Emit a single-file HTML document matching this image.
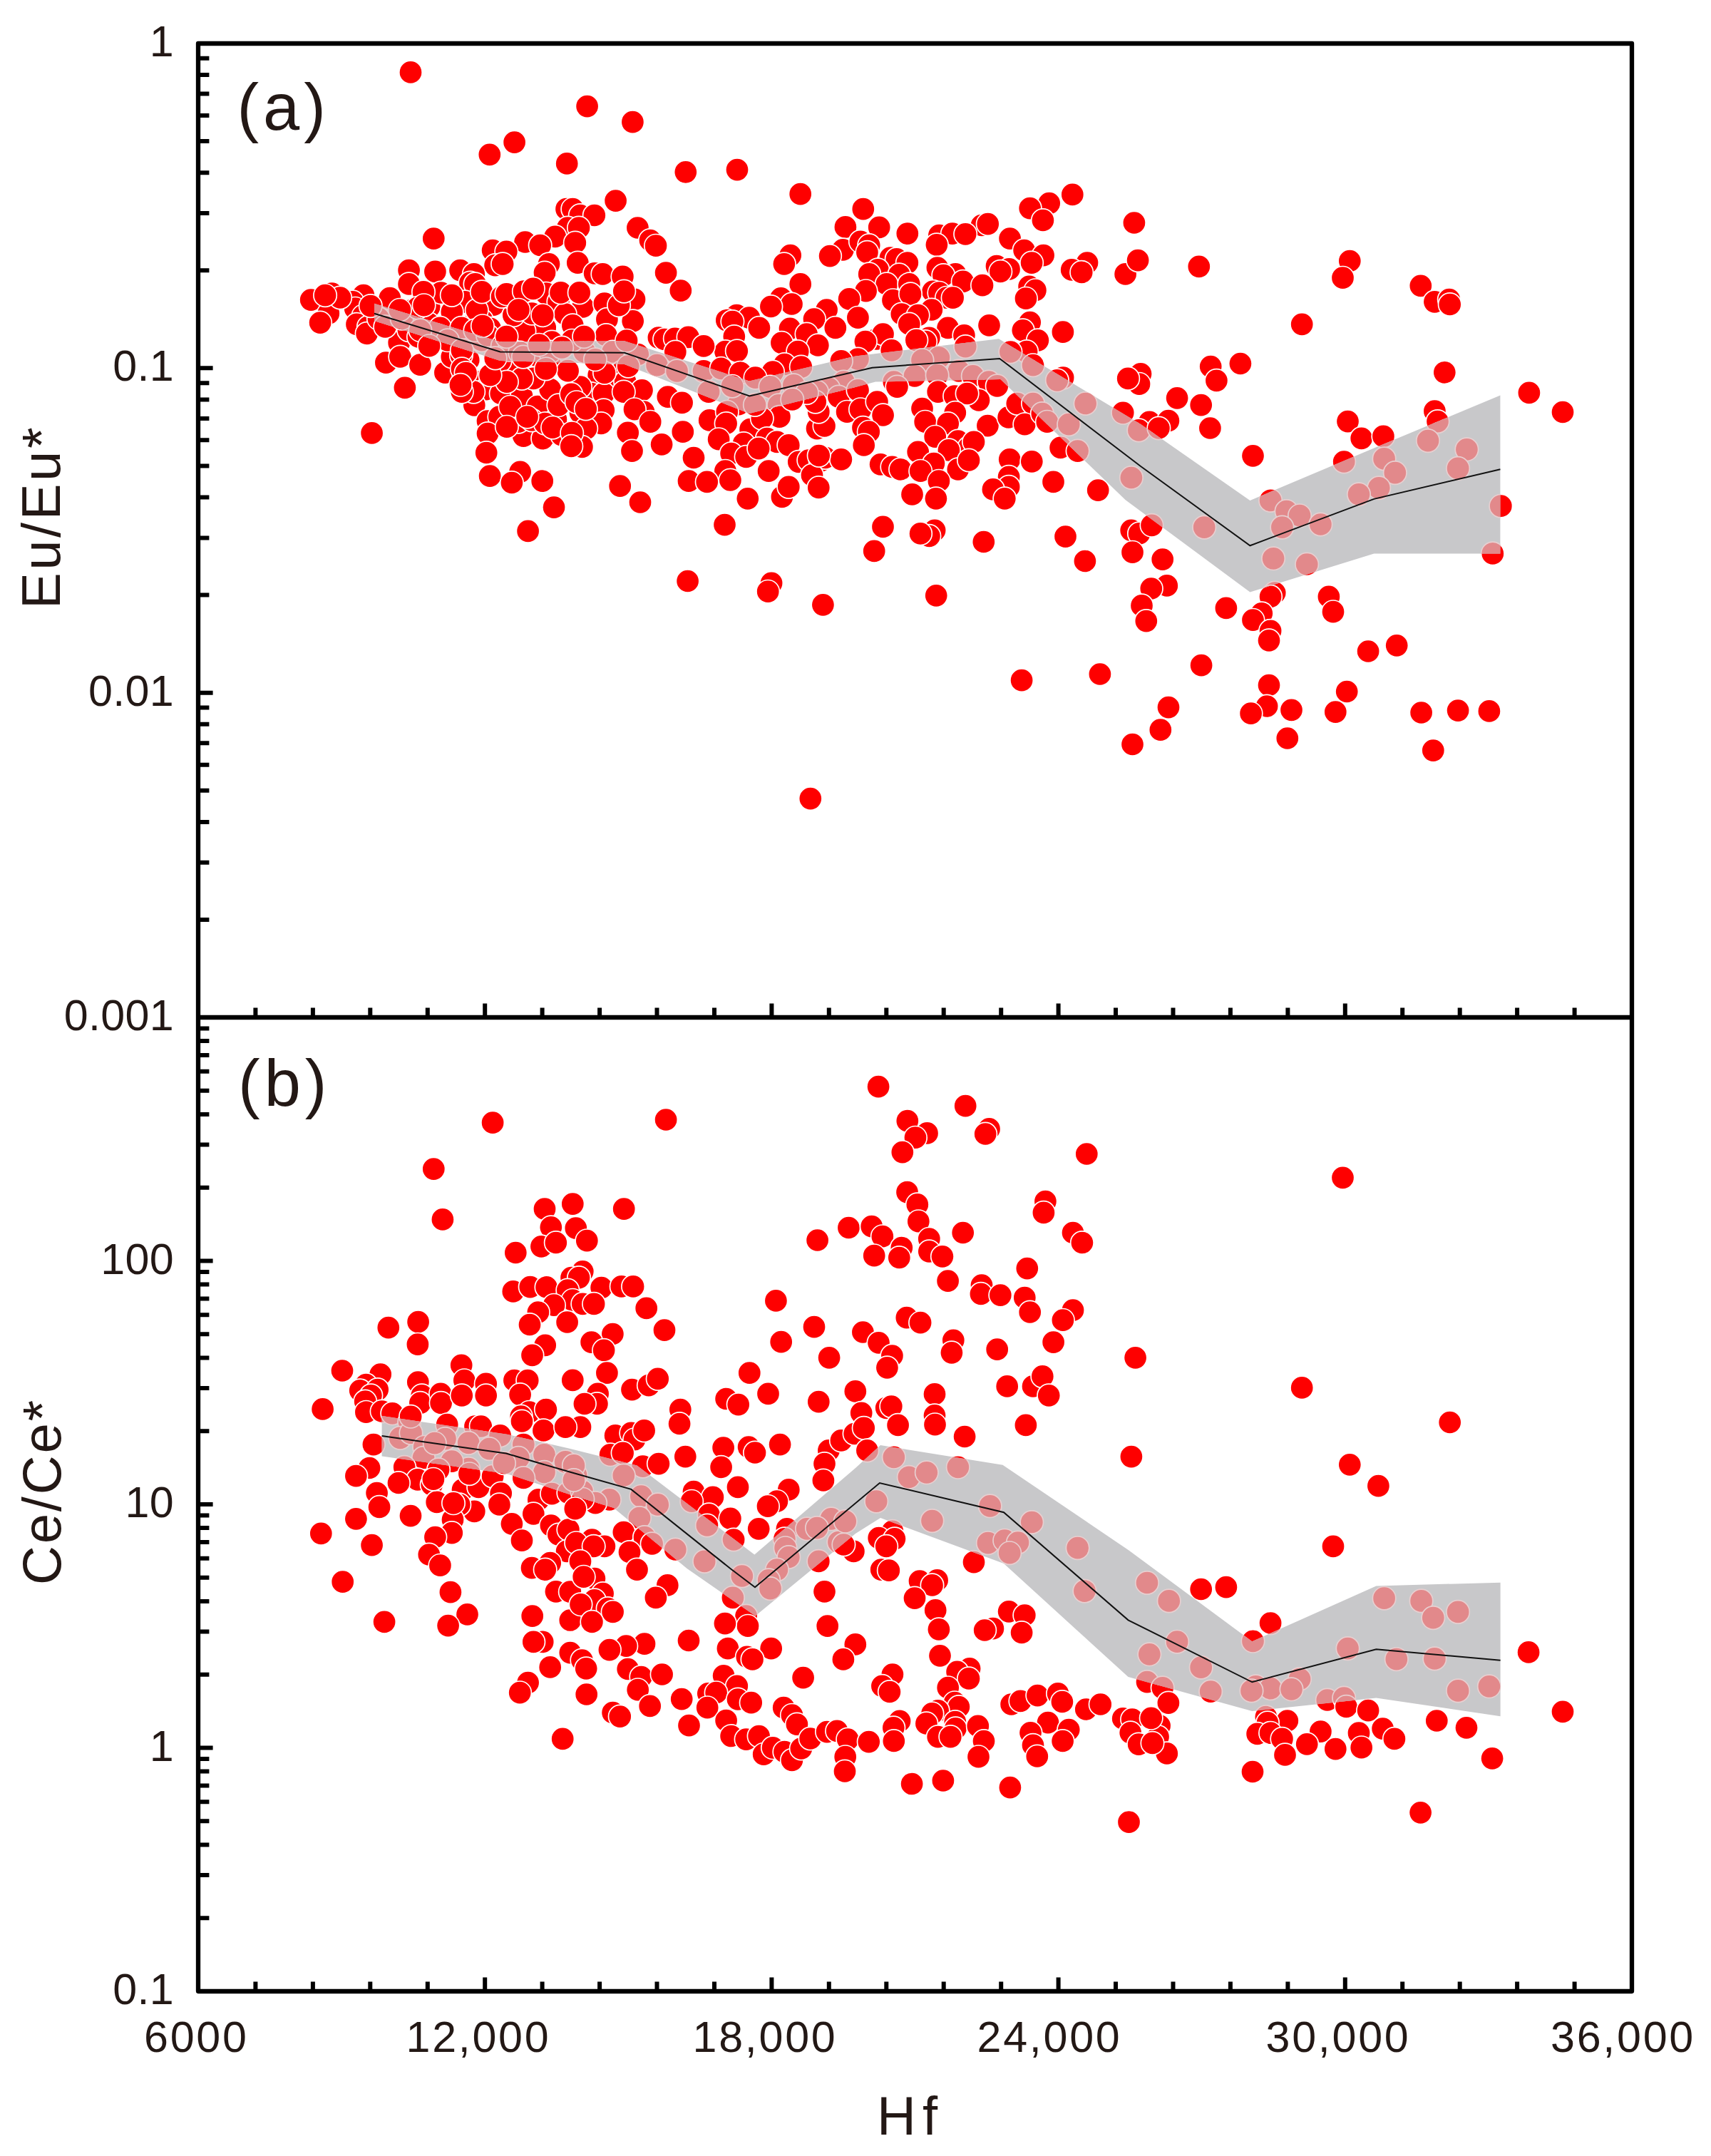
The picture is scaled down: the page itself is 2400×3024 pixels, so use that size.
<!DOCTYPE html>
<html><head><meta charset="utf-8"><title>Eu/Eu* and Ce/Ce* vs Hf</title>
<style>html,body{margin:0;padding:0;background:#fff}svg{display:block}</style></head>
<body>
<svg width="2400" height="3024" viewBox="0 0 2400 3024">
<rect width="2400" height="3024" fill="#fff"/>
<defs><g id="dts">
<circle cx="576.0" cy="101.4" r="16.2"/><circle cx="823.6" cy="149.1" r="16.2"/><circle cx="887.4" cy="171.2" r="16.2"/><circle cx="721.6" cy="199.6" r="16.2"/><circle cx="686.8" cy="216.8" r="16.2"/><circle cx="795.2" cy="229.4" r="16.2"/><circle cx="961.8" cy="241.3" r="16.2"/><circle cx="863.6" cy="281.6" r="16.2"/><circle cx="608.3" cy="334.6" r="16.2"/><circle cx="794.5" cy="293.2" r="16.2"/><circle cx="803.3" cy="293.2" r="16.2"/><circle cx="813.8" cy="302.0" r="16.2"/><circle cx="833.8" cy="302.0" r="16.2"/><circle cx="796.3" cy="319.5" r="16.2"/><circle cx="812.0" cy="319.5" r="16.2"/><circle cx="778.7" cy="331.8" r="16.2"/><circle cx="806.8" cy="340.5" r="16.2"/><circle cx="736.6" cy="339.5" r="16.2"/><circle cx="757.7" cy="344.0" r="16.2"/><circle cx="691.1" cy="351.1" r="16.2"/><circle cx="710.3" cy="352.8" r="16.2"/><circle cx="894.4" cy="319.5" r="16.2"/><circle cx="912.0" cy="337.0" r="16.2"/><circle cx="920.0" cy="344.7" r="16.2"/><circle cx="694.6" cy="372.1" r="16.2"/><circle cx="705.1" cy="370.3" r="16.2"/><circle cx="770.0" cy="370.3" r="16.2"/><circle cx="764.0" cy="382.6" r="16.2"/><circle cx="810.3" cy="368.6" r="16.2"/><circle cx="834.1" cy="383.3" r="16.2"/><circle cx="845.4" cy="384.4" r="16.2"/><circle cx="873.4" cy="387.9" r="16.2"/><circle cx="934.1" cy="382.6" r="16.2"/><circle cx="573.6" cy="379.1" r="16.2"/><circle cx="610.4" cy="380.9" r="16.2"/><circle cx="645.5" cy="379.1" r="16.2"/><circle cx="664.8" cy="384.4" r="16.2"/><circle cx="573.6" cy="398.4" r="16.2"/><circle cx="659.5" cy="396.6" r="16.2"/><circle cx="666.5" cy="398.4" r="16.2"/><circle cx="1034.0" cy="238.1" r="16.2"/><circle cx="1122.7" cy="272.2" r="16.2"/><circle cx="1210.8" cy="293.2" r="16.2"/><circle cx="1504.3" cy="272.9" r="16.2"/><circle cx="1471.7" cy="285.1" r="16.2"/><circle cx="1444.7" cy="292.1" r="16.2"/><circle cx="1462.9" cy="309.0" r="16.2"/><circle cx="1590.9" cy="312.5" r="16.2"/><circle cx="1377.0" cy="316.0" r="16.2"/><circle cx="1385.7" cy="314.2" r="16.2"/><circle cx="1185.9" cy="318.4" r="16.2"/><circle cx="1233.2" cy="318.8" r="16.2"/><circle cx="1272.8" cy="327.6" r="16.2"/><circle cx="1317.4" cy="330.0" r="16.2"/><circle cx="1335.9" cy="327.6" r="16.2"/><circle cx="1354.2" cy="328.3" r="16.2"/><circle cx="1416.6" cy="334.6" r="16.2"/><circle cx="1313.9" cy="343.3" r="16.2"/><circle cx="1182.3" cy="350.4" r="16.2"/><circle cx="1206.9" cy="338.8" r="16.2"/><circle cx="1219.2" cy="344.0" r="16.2"/><circle cx="1216.4" cy="353.9" r="16.2"/><circle cx="1164.1" cy="359.1" r="16.2"/><circle cx="1108.7" cy="358.1" r="16.2"/><circle cx="1099.9" cy="370.3" r="16.2"/><circle cx="1436.6" cy="351.1" r="16.2"/><circle cx="1463.6" cy="358.1" r="16.2"/><circle cx="1447.1" cy="368.6" r="16.2"/><circle cx="1249.0" cy="361.6" r="16.2"/><circle cx="1257.7" cy="363.3" r="16.2"/><circle cx="1272.8" cy="368.6" r="16.2"/><circle cx="1398.0" cy="373.2" r="16.2"/><circle cx="1415.5" cy="377.4" r="16.2"/><circle cx="1403.3" cy="380.9" r="16.2"/><circle cx="1525.0" cy="368.6" r="16.2"/><circle cx="1503.2" cy="378.4" r="16.2"/><circle cx="1517.2" cy="381.9" r="16.2"/><circle cx="1578.6" cy="384.4" r="16.2"/><circle cx="1596.1" cy="365.1" r="16.2"/><circle cx="1314.9" cy="375.6" r="16.2"/><circle cx="1340.2" cy="384.4" r="16.2"/><circle cx="1323.3" cy="386.1" r="16.2"/><circle cx="1231.4" cy="378.4" r="16.2"/><circle cx="1261.3" cy="385.4" r="16.2"/><circle cx="1219.2" cy="384.4" r="16.2"/><circle cx="1350.7" cy="394.9" r="16.2"/><circle cx="1378.0" cy="400.2" r="16.2"/><circle cx="1243.7" cy="398.4" r="16.2"/><circle cx="1275.3" cy="398.4" r="16.2"/><circle cx="1122.7" cy="398.4" r="16.2"/><circle cx="1214.6" cy="408.2" r="16.2"/><circle cx="1308.6" cy="408.9" r="16.2"/><circle cx="1317.4" cy="410.7" r="16.2"/><circle cx="1443.6" cy="401.9" r="16.2"/><circle cx="1452.4" cy="407.2" r="16.2"/><circle cx="1439.0" cy="418.7" r="16.2"/><circle cx="1191.1" cy="419.4" r="16.2"/><circle cx="1095.4" cy="418.4" r="16.2"/><circle cx="1110.5" cy="426.5" r="16.2"/><circle cx="1081.4" cy="430.0" r="16.2"/><circle cx="1252.5" cy="421.2" r="16.2"/><circle cx="1277.0" cy="412.4" r="16.2"/><circle cx="1327.9" cy="417.7" r="16.2"/><circle cx="1336.6" cy="417.7" r="16.2"/><circle cx="1159.6" cy="434.5" r="16.2"/><circle cx="1306.8" cy="434.5" r="16.2"/><circle cx="1264.8" cy="440.5" r="16.2"/><circle cx="1287.6" cy="442.2" r="16.2"/><circle cx="1033.3" cy="442.2" r="16.2"/><circle cx="1050.8" cy="445.7" r="16.2"/><circle cx="1019.3" cy="449.2" r="16.2"/><circle cx="1027.4" cy="451.0" r="16.2"/><circle cx="1203.4" cy="445.7" r="16.2"/><circle cx="1142.0" cy="447.5" r="16.2"/><circle cx="1387.5" cy="456.3" r="16.2"/><circle cx="1444.7" cy="452.1" r="16.2"/><circle cx="1434.8" cy="463.3" r="16.2"/><circle cx="1275.3" cy="454.5" r="16.2"/><circle cx="1490.9" cy="465.7" r="16.2"/><circle cx="1064.9" cy="459.8" r="16.2"/><circle cx="1108.0" cy="460.8" r="16.2"/><circle cx="1131.5" cy="468.5" r="16.2"/><circle cx="1171.8" cy="459.8" r="16.2"/><circle cx="1029.8" cy="472.0" r="16.2"/><circle cx="1329.6" cy="459.8" r="16.2"/><circle cx="1352.4" cy="470.3" r="16.2"/><circle cx="1303.3" cy="473.8" r="16.2"/><circle cx="1298.1" cy="479.1" r="16.2"/><circle cx="1229.7" cy="475.5" r="16.2"/><circle cx="1238.5" cy="468.5" r="16.2"/><circle cx="1455.9" cy="477.3" r="16.2"/><circle cx="1096.4" cy="480.8" r="16.2"/><circle cx="1147.3" cy="484.3" r="16.2"/><circle cx="1119.2" cy="493.1" r="16.2"/><circle cx="1017.5" cy="493.1" r="16.2"/><circle cx="1213.9" cy="479.1" r="16.2"/><circle cx="1250.7" cy="491.3" r="16.2"/><circle cx="1440.1" cy="493.1" r="16.2"/><circle cx="1203.4" cy="503.6" r="16.2"/><circle cx="1354.2" cy="486.1" r="16.2"/><circle cx="1681.8" cy="373.8" r="16.2"/><circle cx="1893.3" cy="366.0" r="16.2"/><circle cx="1883.5" cy="389.7" r="16.2"/><circle cx="1992.8" cy="400.8" r="16.2"/><circle cx="2012.4" cy="423.3" r="16.2"/><circle cx="2032.8" cy="420.0" r="16.2"/><circle cx="2033.7" cy="427.0" r="16.2"/><circle cx="1826.2" cy="454.8" r="16.2"/><circle cx="1739.9" cy="510.0" r="16.2"/><circle cx="1698.2" cy="514.1" r="16.2"/><circle cx="1706.4" cy="533.8" r="16.2"/><circle cx="2026.3" cy="522.3" r="16.2"/><circle cx="1600.0" cy="524.3" r="16.2"/><circle cx="1598.0" cy="538.7" r="16.2"/><circle cx="2144.9" cy="550.9" r="16.2"/><circle cx="1651.1" cy="558.3" r="16.2"/><circle cx="1684.7" cy="568.1" r="16.2"/><circle cx="1612.3" cy="591.9" r="16.2"/><circle cx="465.5" cy="411.7" r="16.2"/><circle cx="436.2" cy="420.6" r="16.2"/><circle cx="460.8" cy="439.7" r="16.2"/><circle cx="449.1" cy="452.6" r="16.2"/><circle cx="509.9" cy="414.0" r="16.2"/><circle cx="494.7" cy="423.4" r="16.2"/><circle cx="498.2" cy="432.7" r="16.2"/><circle cx="509.4" cy="443.2" r="16.2"/><circle cx="500.5" cy="454.9" r="16.2"/><circle cx="516.9" cy="458.4" r="16.2"/><circle cx="514.6" cy="467.8" r="16.2"/><circle cx="546.8" cy="418.2" r="16.2"/><circle cx="602.2" cy="430.4" r="16.2"/><circle cx="652.0" cy="423.4" r="16.2"/><circle cx="692.2" cy="427.6" r="16.2"/><circle cx="618.6" cy="410.5" r="16.2"/><circle cx="728.5" cy="421.0" r="16.2"/><circle cx="765.9" cy="411.7" r="16.2"/><circle cx="764.7" cy="459.6" r="16.2"/><circle cx="735.5" cy="464.3" r="16.2"/><circle cx="705.1" cy="477.1" r="16.2"/><circle cx="559.7" cy="480.7" r="16.2"/><circle cx="541.4" cy="508.7" r="16.2"/><circle cx="561.3" cy="500.5" r="16.2"/><circle cx="589.4" cy="511.7" r="16.2"/><circle cx="567.9" cy="543.8" r="16.2"/><circle cx="521.6" cy="607.4" r="16.2"/><circle cx="624.4" cy="522.7" r="16.2"/><circle cx="650.1" cy="530.9" r="16.2"/><circle cx="656.0" cy="537.9" r="16.2"/><circle cx="671.2" cy="535.6" r="16.2"/><circle cx="681.7" cy="546.1" r="16.2"/><circle cx="702.7" cy="552.0" r="16.2"/><circle cx="665.3" cy="568.3" r="16.2"/><circle cx="684.0" cy="590.5" r="16.2"/><circle cx="700.4" cy="584.7" r="16.2"/><circle cx="684.0" cy="608.1" r="16.2"/><circle cx="682.2" cy="635.0" r="16.2"/><circle cx="687.1" cy="667.7" r="16.2"/><circle cx="729.6" cy="661.8" r="16.2"/><circle cx="717.9" cy="677.0" r="16.2"/><circle cx="760.7" cy="674.7" r="16.2"/><circle cx="734.3" cy="611.6" r="16.2"/><circle cx="761.2" cy="615.1" r="16.2"/><circle cx="732.0" cy="555.5" r="16.2"/><circle cx="754.2" cy="570.2" r="16.2"/><circle cx="771.7" cy="546.1" r="16.2"/><circle cx="779.9" cy="588.2" r="16.2"/><circle cx="748.3" cy="530.9" r="16.2"/><circle cx="719.1" cy="518.1" r="16.2"/><circle cx="701.6" cy="506.4" r="16.2"/><circle cx="727.3" cy="591.7" r="16.2"/><circle cx="477.1" cy="417.5" r="16.2"/><circle cx="530.9" cy="446.8" r="16.2"/><circle cx="540.3" cy="458.4" r="16.2"/><circle cx="573.0" cy="463.1" r="16.2"/><circle cx="587.0" cy="472.5" r="16.2"/><circle cx="605.7" cy="477.1" r="16.2"/><circle cx="622.1" cy="467.8" r="16.2"/><circle cx="636.1" cy="458.4" r="16.2"/><circle cx="657.2" cy="458.4" r="16.2"/><circle cx="675.9" cy="449.1" r="16.2"/><circle cx="687.6" cy="460.8" r="16.2"/><circle cx="668.8" cy="435.1" r="16.2"/><circle cx="633.8" cy="437.4" r="16.2"/><circle cx="577.7" cy="435.1" r="16.2"/><circle cx="563.6" cy="446.8" r="16.2"/><circle cx="601.1" cy="453.8" r="16.2"/><circle cx="647.8" cy="481.8" r="16.2"/><circle cx="633.8" cy="500.5" r="16.2"/><circle cx="657.2" cy="505.2" r="16.2"/><circle cx="675.9" cy="477.1" r="16.2"/><circle cx="720.3" cy="442.1" r="16.2"/><circle cx="746.0" cy="439.7" r="16.2"/><circle cx="774.1" cy="479.5" r="16.2"/><circle cx="750.7" cy="498.2" r="16.2"/><circle cx="771.7" cy="512.2" r="16.2"/><circle cx="732.0" cy="530.9" r="16.2"/><circle cx="710.9" cy="535.6" r="16.2"/><circle cx="687.6" cy="526.2" r="16.2"/><circle cx="664.2" cy="549.6" r="16.2"/><circle cx="647.8" cy="549.6" r="16.2"/><circle cx="715.6" cy="570.7" r="16.2"/><circle cx="746.0" cy="589.4" r="16.2"/><circle cx="764.7" cy="594.0" r="16.2"/><circle cx="783.4" cy="568.3" r="16.2"/><circle cx="710.9" cy="598.7" r="16.2"/><circle cx="788.1" cy="610.4" r="16.2"/><circle cx="771.7" cy="493.5" r="16.2"/><circle cx="675.9" cy="409.4" r="16.2"/><circle cx="783.4" cy="423.4" r="16.2"/><circle cx="594.0" cy="409.4" r="16.2"/><circle cx="633.8" cy="414.0" r="16.2"/><circle cx="817.5" cy="430.4" r="16.2"/><circle cx="847.9" cy="425.7" r="16.2"/><circle cx="890.0" cy="419.9" r="16.2"/><circle cx="851.4" cy="447.9" r="16.2"/><circle cx="887.7" cy="450.3" r="16.2"/><circle cx="850.3" cy="470.1" r="16.2"/><circle cx="923.9" cy="473.6" r="16.2"/><circle cx="932.1" cy="476.0" r="16.2"/><circle cx="946.8" cy="474.8" r="16.2"/><circle cx="965.5" cy="472.9" r="16.2"/><circle cx="987.0" cy="485.3" r="16.2"/><circle cx="947.3" cy="493.5" r="16.2"/><circle cx="1033.8" cy="492.3" r="16.2"/><circle cx="1100.4" cy="511.0" r="16.2"/><circle cx="1123.8" cy="514.6" r="16.2"/><circle cx="1084.0" cy="521.6" r="16.2"/><circle cx="1179.9" cy="506.4" r="16.2"/><circle cx="859.6" cy="493.5" r="16.2"/><circle cx="894.7" cy="497.0" r="16.2"/><circle cx="819.9" cy="493.5" r="16.2"/><circle cx="921.6" cy="512.2" r="16.2"/><circle cx="949.6" cy="520.4" r="16.2"/><circle cx="987.0" cy="520.4" r="16.2"/><circle cx="1011.6" cy="516.9" r="16.2"/><circle cx="1038.5" cy="522.7" r="16.2"/><circle cx="1059.5" cy="529.7" r="16.2"/><circle cx="1113.3" cy="540.3" r="16.2"/><circle cx="1080.5" cy="542.6" r="16.2"/><circle cx="1183.4" cy="535.6" r="16.2"/><circle cx="1162.4" cy="544.9" r="16.2"/><circle cx="994.0" cy="549.6" r="16.2"/><circle cx="1036.1" cy="567.2" r="16.2"/><circle cx="1092.2" cy="568.3" r="16.2"/><circle cx="1146.0" cy="549.6" r="16.2"/><circle cx="1176.4" cy="556.6" r="16.2"/><circle cx="839.7" cy="526.2" r="16.2"/><circle cx="853.8" cy="527.4" r="16.2"/><circle cx="872.5" cy="521.6" r="16.2"/><circle cx="877.1" cy="535.6" r="16.2"/><circle cx="900.5" cy="547.3" r="16.2"/><circle cx="936.8" cy="556.6" r="16.2"/><circle cx="829.2" cy="552.0" r="16.2"/><circle cx="814.0" cy="542.6" r="16.2"/><circle cx="846.8" cy="552.0" r="16.2"/><circle cx="874.8" cy="549.6" r="16.2"/><circle cx="956.6" cy="564.8" r="16.2"/><circle cx="902.9" cy="577.7" r="16.2"/><circle cx="890.0" cy="574.2" r="16.2"/><circle cx="846.8" cy="575.3" r="16.2"/><circle cx="814.0" cy="578.8" r="16.2"/><circle cx="843.2" cy="594.0" r="16.2"/><circle cx="912.2" cy="591.7" r="16.2"/><circle cx="822.2" cy="601.1" r="16.2"/><circle cx="880.7" cy="606.9" r="16.2"/><circle cx="957.8" cy="605.7" r="16.2"/><circle cx="816.4" cy="626.8" r="16.2"/><circle cx="886.5" cy="632.6" r="16.2"/><circle cx="928.1" cy="623.3" r="16.2"/><circle cx="973.0" cy="642.0" r="16.2"/><circle cx="869.7" cy="681.7" r="16.2"/><circle cx="995.2" cy="589.4" r="16.2"/><circle cx="1019.8" cy="577.7" r="16.2"/><circle cx="1018.6" cy="594.0" r="16.2"/><circle cx="1008.1" cy="616.2" r="16.2"/><circle cx="1052.5" cy="602.2" r="16.2"/><circle cx="1093.4" cy="584.7" r="16.2"/><circle cx="1068.8" cy="587.0" r="16.2"/><circle cx="1043.1" cy="622.1" r="16.2"/><circle cx="1075.9" cy="615.1" r="16.2"/><circle cx="1089.9" cy="619.8" r="16.2"/><circle cx="1025.6" cy="636.1" r="16.2"/><circle cx="1106.3" cy="624.4" r="16.2"/><circle cx="1046.6" cy="640.8" r="16.2"/><circle cx="1064.2" cy="629.1" r="16.2"/><circle cx="1017.4" cy="660.7" r="16.2"/><circle cx="1078.2" cy="660.7" r="16.2"/><circle cx="1120.3" cy="647.8" r="16.2"/><circle cx="1134.3" cy="645.5" r="16.2"/><circle cx="1150.7" cy="646.6" r="16.2"/><circle cx="1157.7" cy="642.0" r="16.2"/><circle cx="1179.9" cy="644.3" r="16.2"/><circle cx="966.0" cy="674.7" r="16.2"/><circle cx="991.7" cy="675.9" r="16.2"/><circle cx="1024.4" cy="673.5" r="16.2"/><circle cx="1096.9" cy="696.9" r="16.2"/><circle cx="1106.3" cy="682.9" r="16.2"/><circle cx="1139.0" cy="666.5" r="16.2"/><circle cx="1148.3" cy="684.0" r="16.2"/><circle cx="1146.0" cy="601.1" r="16.2"/><circle cx="1156.5" cy="597.5" r="16.2"/><circle cx="1148.3" cy="577.7" r="16.2"/><circle cx="1188.1" cy="577.7" r="16.2"/><circle cx="1143.7" cy="563.6" r="16.2"/><circle cx="1417.4" cy="493.5" r="16.2"/><circle cx="1285.3" cy="477.1" r="16.2"/><circle cx="1316.9" cy="501.7" r="16.2"/><circle cx="1293.5" cy="505.2" r="16.2"/><circle cx="1344.9" cy="520.4" r="16.2"/><circle cx="1364.8" cy="527.4" r="16.2"/><circle cx="1253.8" cy="535.6" r="16.2"/><circle cx="1283.0" cy="527.4" r="16.2"/><circle cx="1258.4" cy="542.6" r="16.2"/><circle cx="1314.6" cy="526.2" r="16.2"/><circle cx="1387.0" cy="535.6" r="16.2"/><circle cx="1398.7" cy="541.4" r="16.2"/><circle cx="1449.0" cy="512.2" r="16.2"/><circle cx="1491.1" cy="529.7" r="16.2"/><circle cx="1482.9" cy="533.3" r="16.2"/><circle cx="1582.2" cy="530.9" r="16.2"/><circle cx="1315.7" cy="549.6" r="16.2"/><circle cx="1339.1" cy="555.5" r="16.2"/><circle cx="1373.0" cy="561.3" r="16.2"/><circle cx="1356.6" cy="552.0" r="16.2"/><circle cx="1203.5" cy="547.3" r="16.2"/><circle cx="1207.0" cy="574.2" r="16.2"/><circle cx="1230.4" cy="563.6" r="16.2"/><circle cx="1238.6" cy="582.3" r="16.2"/><circle cx="1293.5" cy="573.0" r="16.2"/><circle cx="1297.7" cy="591.7" r="16.2"/><circle cx="1339.8" cy="578.8" r="16.2"/><circle cx="1329.7" cy="594.0" r="16.2"/><circle cx="1385.4" cy="597.1" r="16.2"/><circle cx="1414.6" cy="585.4" r="16.2"/><circle cx="1426.8" cy="566.0" r="16.2"/><circle cx="1449.0" cy="566.0" r="16.2"/><circle cx="1437.3" cy="595.2" r="16.2"/><circle cx="1461.8" cy="580.0" r="16.2"/><circle cx="1468.8" cy="591.7" r="16.2"/><circle cx="1499.2" cy="595.2" r="16.2"/><circle cx="1522.6" cy="566.0" r="16.2"/><circle cx="1575.2" cy="578.8" r="16.2"/><circle cx="1597.4" cy="603.4" r="16.2"/><circle cx="1210.5" cy="599.9" r="16.2"/><circle cx="1218.7" cy="605.7" r="16.2"/><circle cx="1211.7" cy="624.4" r="16.2"/><circle cx="1311.7" cy="612.7" r="16.2"/><circle cx="1287.7" cy="633.8" r="16.2"/><circle cx="1343.8" cy="618.6" r="16.2"/><circle cx="1359.0" cy="627.9" r="16.2"/><circle cx="1366.0" cy="619.8" r="16.2"/><circle cx="1330.9" cy="631.4" r="16.2"/><circle cx="1309.9" cy="650.1" r="16.2"/><circle cx="1235.1" cy="651.3" r="16.2"/><circle cx="1251.4" cy="654.8" r="16.2"/><circle cx="1263.1" cy="658.3" r="16.2"/><circle cx="1291.2" cy="660.7" r="16.2"/><circle cx="1343.8" cy="658.3" r="16.2"/><circle cx="1359.0" cy="645.5" r="16.2"/><circle cx="1316.9" cy="674.7" r="16.2"/><circle cx="1279.5" cy="693.4" r="16.2"/><circle cx="1416.2" cy="644.3" r="16.2"/><circle cx="1447.3" cy="647.3" r="16.2"/><circle cx="1415.1" cy="668.8" r="16.2"/><circle cx="1415.1" cy="682.9" r="16.2"/><circle cx="1392.9" cy="686.4" r="16.2"/><circle cx="1477.5" cy="675.9" r="16.2"/><circle cx="1487.6" cy="627.9" r="16.2"/><circle cx="1511.6" cy="632.6" r="16.2"/><circle cx="1540.2" cy="687.6" r="16.2"/><circle cx="1586.9" cy="670.0" r="16.2"/><circle cx="2192.0" cy="578.0" r="16.2"/><circle cx="2012.4" cy="576.7" r="16.2"/><circle cx="2016.5" cy="591.1" r="16.2"/><circle cx="1638.9" cy="590.2" r="16.2"/><circle cx="1625.4" cy="600.5" r="16.2"/><circle cx="1697.4" cy="600.5" r="16.2"/><circle cx="1890.5" cy="591.1" r="16.2"/><circle cx="1909.7" cy="614.8" r="16.2"/><circle cx="1940.4" cy="611.9" r="16.2"/><circle cx="2003.0" cy="618.1" r="16.2"/><circle cx="2057.4" cy="630.3" r="16.2"/><circle cx="1757.5" cy="639.3" r="16.2"/><circle cx="1885.2" cy="647.5" r="16.2"/><circle cx="1941.6" cy="643.4" r="16.2"/><circle cx="1956.8" cy="663.1" r="16.2"/><circle cx="2045.1" cy="656.9" r="16.2"/><circle cx="1934.2" cy="684.3" r="16.2"/><circle cx="1906.0" cy="693.3" r="16.2"/><circle cx="2105.3" cy="709.7" r="16.2"/><circle cx="1782.1" cy="701.9" r="16.2"/><circle cx="1804.6" cy="717.1" r="16.2"/><circle cx="1823.0" cy="723.2" r="16.2"/><circle cx="1798.4" cy="739.6" r="16.2"/><circle cx="1852.4" cy="735.5" r="16.2"/><circle cx="1689.2" cy="739.6" r="16.2"/><circle cx="1630.7" cy="784.6" r="16.2"/><circle cx="1786.1" cy="783.3" r="16.2"/><circle cx="1833.2" cy="791.5" r="16.2"/><circle cx="2093.8" cy="776.4" r="16.2"/><circle cx="1636.8" cy="821.4" r="16.2"/><circle cx="1788.2" cy="831.6" r="16.2"/><circle cx="1782.1" cy="836.9" r="16.2"/><circle cx="1863.9" cy="836.9" r="16.2"/><circle cx="1870.0" cy="858.2" r="16.2"/><circle cx="1719.9" cy="852.9" r="16.2"/><circle cx="1769.8" cy="860.3" r="16.2"/><circle cx="1757.5" cy="869.7" r="16.2"/><circle cx="1782.1" cy="884.8" r="16.2"/><circle cx="1780.0" cy="898.3" r="16.2"/><circle cx="1959.2" cy="905.3" r="16.2"/><circle cx="777.0" cy="711.6" r="16.2"/><circle cx="740.6" cy="744.9" r="16.2"/><circle cx="898.0" cy="704.5" r="16.2"/><circle cx="1048.8" cy="699.3" r="16.2"/><circle cx="1016.5" cy="736.1" r="16.2"/><circle cx="964.6" cy="815.0" r="16.2"/><circle cx="1082.1" cy="817.8" r="16.2"/><circle cx="1077.2" cy="829.7" r="16.2"/><circle cx="1312.9" cy="699.3" r="16.2"/><circle cx="1409.3" cy="699.3" r="16.2"/><circle cx="1238.5" cy="738.9" r="16.2"/><circle cx="1311.1" cy="743.8" r="16.2"/><circle cx="1303.4" cy="751.9" r="16.2"/><circle cx="1291.1" cy="748.4" r="16.2"/><circle cx="1226.2" cy="772.9" r="16.2"/><circle cx="1379.8" cy="760.0" r="16.2"/><circle cx="1494.5" cy="752.6" r="16.2"/><circle cx="1521.9" cy="787.0" r="16.2"/><circle cx="1586.7" cy="743.8" r="16.2"/><circle cx="1598.0" cy="748.4" r="16.2"/><circle cx="1615.5" cy="736.8" r="16.2"/><circle cx="1588.5" cy="774.7" r="16.2"/><circle cx="1614.8" cy="825.5" r="16.2"/><circle cx="1601.5" cy="849.4" r="16.2"/><circle cx="1607.8" cy="871.1" r="16.2"/><circle cx="1154.4" cy="848.3" r="16.2"/><circle cx="1313.2" cy="835.3" r="16.2"/><circle cx="1433.1" cy="954.2" r="16.2"/><circle cx="1542.9" cy="945.5" r="16.2"/><circle cx="1639.0" cy="992.1" r="16.2"/><circle cx="1627.8" cy="1023.7" r="16.2"/><circle cx="1588.5" cy="1044.0" r="16.2"/><circle cx="1136.8" cy="1120.1" r="16.2"/><circle cx="1919.1" cy="913.5" r="16.2"/><circle cx="1685.1" cy="933.2" r="16.2"/><circle cx="1780.0" cy="961.0" r="16.2"/><circle cx="1889.2" cy="970.0" r="16.2"/><circle cx="1777.1" cy="990.5" r="16.2"/><circle cx="1754.6" cy="1000.7" r="16.2"/><circle cx="1811.5" cy="995.8" r="16.2"/><circle cx="1873.3" cy="998.6" r="16.2"/><circle cx="1993.6" cy="999.5" r="16.2"/><circle cx="2045.1" cy="996.6" r="16.2"/><circle cx="2088.9" cy="997.4" r="16.2"/><circle cx="1805.8" cy="1035.5" r="16.2"/><circle cx="2010.3" cy="1052.6" r="16.2"/><circle cx="456.1" cy="414.2" r="16.2"/><circle cx="585.9" cy="431.7" r="16.2"/><circle cx="594.6" cy="428.2" r="16.2"/><circle cx="717.4" cy="417.7" r="16.2"/><circle cx="792.8" cy="440.5" r="16.2"/><circle cx="868.1" cy="428.2" r="16.2"/><circle cx="803.3" cy="456.3" r="16.2"/><circle cx="761.2" cy="442.2" r="16.2"/><circle cx="617.4" cy="459.8" r="16.2"/><circle cx="647.2" cy="459.8" r="16.2"/><circle cx="666.5" cy="463.3" r="16.2"/><circle cx="684.0" cy="470.3" r="16.2"/><circle cx="627.9" cy="477.3" r="16.2"/><circle cx="589.4" cy="463.3" r="16.2"/><circle cx="704.0" cy="416.0" r="16.2"/><circle cx="710.5" cy="412.3" r="16.2"/><circle cx="734.9" cy="408.6" r="16.2"/><circle cx="727.4" cy="434.7" r="16.2"/><circle cx="519.8" cy="429.1" r="16.2"/><circle cx="560.9" cy="434.7" r="16.2"/><circle cx="676.9" cy="457.2" r="16.2"/><circle cx="646.9" cy="498.3" r="16.2"/><circle cx="602.1" cy="485.2" r="16.2"/><circle cx="704.9" cy="485.2" r="16.2"/><circle cx="714.3" cy="490.8" r="16.2"/><circle cx="729.2" cy="494.6" r="16.2"/><circle cx="710.5" cy="472.1" r="16.2"/><circle cx="747.9" cy="404.8" r="16.2"/><circle cx="954.8" cy="407.6" r="16.2"/><circle cx="786.5" cy="410.4" r="16.2"/><circle cx="812.7" cy="410.4" r="16.2"/><circle cx="875.3" cy="408.6" r="16.2"/><circle cx="879.0" cy="477.7" r="16.2"/><circle cx="802.4" cy="477.7" r="16.2"/><circle cx="819.2" cy="472.1" r="16.2"/><circle cx="647.9" cy="491.2" r="16.2"/><circle cx="647.9" cy="517.4" r="16.2"/><circle cx="653.5" cy="523.0" r="16.2"/><circle cx="646.0" cy="539.8" r="16.2"/><circle cx="694.7" cy="502.4" r="16.2"/><circle cx="733.9" cy="500.6" r="16.2"/><circle cx="739.5" cy="584.7" r="16.2"/><circle cx="775.1" cy="599.7" r="16.2"/><circle cx="796.6" cy="520.2" r="16.2"/><circle cx="765.7" cy="517.4" r="16.2"/><circle cx="801.3" cy="552.9" r="16.2"/><circle cx="808.7" cy="564.2" r="16.2"/><circle cx="848.0" cy="523.0" r="16.2"/><circle cx="821.8" cy="573.5" r="16.2"/><circle cx="802.2" cy="607.2" r="16.2"/><circle cx="801.3" cy="625.9" r="16.2"/><circle cx="788.2" cy="487.5" r="16.2"/><circle cx="756.4" cy="483.7" r="16.2"/><circle cx="834.9" cy="504.3" r="16.2"/><circle cx="1058.9" cy="567.9" r="16.2"/><circle cx="1131.8" cy="551.1" r="16.2"/><circle cx="1027.1" cy="541.7" r="16.2"/><circle cx="881.2" cy="513.7" r="16.2"/><circle cx="1111.3" cy="560.4" r="16.2"/><circle cx="1148.7" cy="639.0" r="16.2"/>
<circle cx="691.1" cy="1574.7" r="16.2"/><circle cx="934.1" cy="1570.5" r="16.2"/><circle cx="608.3" cy="1639.6" r="16.2"/><circle cx="620.9" cy="1710.4" r="16.2"/><circle cx="764.0" cy="1695.7" r="16.2"/><circle cx="803.3" cy="1688.6" r="16.2"/><circle cx="875.2" cy="1695.7" r="16.2"/><circle cx="772.8" cy="1721.3" r="16.2"/><circle cx="807.8" cy="1722.7" r="16.2"/><circle cx="823.3" cy="1740.2" r="16.2"/><circle cx="759.4" cy="1748.3" r="16.2"/><circle cx="779.8" cy="1743.0" r="16.2"/><circle cx="723.3" cy="1757.0" r="16.2"/><circle cx="817.3" cy="1783.3" r="16.2"/><circle cx="801.5" cy="1792.1" r="16.2"/><circle cx="812.0" cy="1792.1" r="16.2"/><circle cx="719.8" cy="1811.4" r="16.2"/><circle cx="743.7" cy="1805.1" r="16.2"/><circle cx="766.5" cy="1805.4" r="16.2"/><circle cx="796.3" cy="1809.6" r="16.2"/><circle cx="843.6" cy="1806.1" r="16.2"/><circle cx="871.7" cy="1804.4" r="16.2"/><circle cx="888.1" cy="1804.4" r="16.2"/><circle cx="803.3" cy="1823.7" r="16.2"/><circle cx="817.3" cy="1828.9" r="16.2"/><circle cx="833.1" cy="1828.9" r="16.2"/><circle cx="777.0" cy="1830.7" r="16.2"/><circle cx="754.9" cy="1840.5" r="16.2"/><circle cx="906.7" cy="1834.9" r="16.2"/><circle cx="743.0" cy="1858.0" r="16.2"/><circle cx="795.6" cy="1854.5" r="16.2"/><circle cx="932.0" cy="1865.7" r="16.2"/><circle cx="859.4" cy="1871.0" r="16.2"/><circle cx="829.6" cy="1882.6" r="16.2"/><circle cx="847.1" cy="1893.8" r="16.2"/><circle cx="764.7" cy="1886.8" r="16.2"/><circle cx="746.5" cy="1900.8" r="16.2"/><circle cx="544.8" cy="1862.2" r="16.2"/><circle cx="586.6" cy="1854.2" r="16.2"/><circle cx="585.9" cy="1885.7" r="16.2"/><circle cx="480.0" cy="1922.5" r="16.2"/><circle cx="647.2" cy="1914.8" r="16.2"/><circle cx="803.3" cy="1935.9" r="16.2"/><circle cx="1232.1" cy="1524.2" r="16.2"/><circle cx="1354.2" cy="1551.2" r="16.2"/><circle cx="1272.8" cy="1572.2" r="16.2"/><circle cx="1300.5" cy="1589.4" r="16.2"/><circle cx="1284.0" cy="1595.7" r="16.2"/><circle cx="1265.8" cy="1616.1" r="16.2"/><circle cx="1387.5" cy="1583.4" r="16.2"/><circle cx="1382.2" cy="1590.5" r="16.2"/><circle cx="1524.3" cy="1618.5" r="16.2"/><circle cx="1272.5" cy="1672.2" r="16.2"/><circle cx="1286.8" cy="1689.4" r="16.2"/><circle cx="1288.3" cy="1713.2" r="16.2"/><circle cx="1466.4" cy="1685.1" r="16.2"/><circle cx="1463.9" cy="1700.9" r="16.2"/><circle cx="1190.4" cy="1722.0" r="16.2"/><circle cx="1222.7" cy="1720.2" r="16.2"/><circle cx="1237.8" cy="1734.2" r="16.2"/><circle cx="1146.6" cy="1739.5" r="16.2"/><circle cx="1264.8" cy="1750.0" r="16.2"/><circle cx="1226.2" cy="1761.2" r="16.2"/><circle cx="1261.3" cy="1764.0" r="16.2"/><circle cx="1303.3" cy="1737.7" r="16.2"/><circle cx="1303.3" cy="1755.3" r="16.2"/><circle cx="1321.9" cy="1762.3" r="16.2"/><circle cx="1350.7" cy="1729.0" r="16.2"/><circle cx="1505.0" cy="1729.0" r="16.2"/><circle cx="1517.9" cy="1743.0" r="16.2"/><circle cx="1440.8" cy="1779.1" r="16.2"/><circle cx="1329.6" cy="1796.7" r="16.2"/><circle cx="1377.0" cy="1802.6" r="16.2"/><circle cx="1375.9" cy="1814.9" r="16.2"/><circle cx="1403.3" cy="1816.6" r="16.2"/><circle cx="1437.3" cy="1820.2" r="16.2"/><circle cx="1444.7" cy="1840.5" r="16.2"/><circle cx="1505.0" cy="1837.7" r="16.2"/><circle cx="1490.9" cy="1851.7" r="16.2"/><circle cx="1088.4" cy="1824.4" r="16.2"/><circle cx="1271.8" cy="1848.2" r="16.2"/><circle cx="1291.1" cy="1855.2" r="16.2"/><circle cx="1142.0" cy="1861.2" r="16.2"/><circle cx="1210.4" cy="1868.5" r="16.2"/><circle cx="1232.5" cy="1883.3" r="16.2"/><circle cx="1095.7" cy="1882.2" r="16.2"/><circle cx="1337.3" cy="1879.8" r="16.2"/><circle cx="1334.9" cy="1897.3" r="16.2"/><circle cx="1398.7" cy="1892.7" r="16.2"/><circle cx="1477.6" cy="1882.6" r="16.2"/><circle cx="1163.1" cy="1904.3" r="16.2"/><circle cx="1251.4" cy="1901.5" r="16.2"/><circle cx="1244.4" cy="1918.3" r="16.2"/><circle cx="1592.6" cy="1904.3" r="16.2"/><circle cx="1883.5" cy="1651.8" r="16.2"/><circle cx="1826.2" cy="1946.4" r="16.2"/><circle cx="533.7" cy="1927.6" r="16.2"/><circle cx="513.4" cy="1942.1" r="16.2"/><circle cx="505.2" cy="1950.3" r="16.2"/><circle cx="529.7" cy="1949.1" r="16.2"/><circle cx="520.4" cy="1957.3" r="16.2"/><circle cx="512.2" cy="1965.5" r="16.2"/><circle cx="452.6" cy="1976.4" r="16.2"/><circle cx="513.4" cy="1980.7" r="16.2"/><circle cx="535.6" cy="1979.5" r="16.2"/><circle cx="550.3" cy="1982.3" r="16.2"/><circle cx="586.3" cy="1938.6" r="16.2"/><circle cx="591.7" cy="1957.3" r="16.2"/><circle cx="589.4" cy="1967.8" r="16.2"/><circle cx="618.1" cy="1954.9" r="16.2"/><circle cx="618.6" cy="1967.8" r="16.2"/><circle cx="651.3" cy="1936.2" r="16.2"/><circle cx="647.8" cy="1957.3" r="16.2"/><circle cx="681.7" cy="1940.9" r="16.2"/><circle cx="681.7" cy="1957.3" r="16.2"/><circle cx="721.4" cy="1936.2" r="16.2"/><circle cx="740.2" cy="1936.2" r="16.2"/><circle cx="729.6" cy="1956.1" r="16.2"/><circle cx="742.5" cy="1980.7" r="16.2"/><circle cx="765.9" cy="1977.1" r="16.2"/><circle cx="730.8" cy="1986.5" r="16.2"/><circle cx="732.0" cy="1993.5" r="16.2"/><circle cx="762.4" cy="2006.4" r="16.2"/><circle cx="666.5" cy="2000.5" r="16.2"/><circle cx="674.7" cy="2000.5" r="16.2"/><circle cx="627.2" cy="1998.2" r="16.2"/><circle cx="574.2" cy="1994.7" r="16.2"/><circle cx="701.6" cy="2013.4" r="16.2"/><circle cx="734.3" cy="2026.2" r="16.2"/><circle cx="523.9" cy="2026.2" r="16.2"/><circle cx="561.3" cy="2016.9" r="16.2"/><circle cx="576.5" cy="2009.9" r="16.2"/><circle cx="595.2" cy="2029.7" r="16.2"/><circle cx="624.4" cy="2018.1" r="16.2"/><circle cx="657.2" cy="2023.9" r="16.2"/><circle cx="686.4" cy="2032.1" r="16.2"/><circle cx="727.3" cy="2044.9" r="16.2"/><circle cx="763.5" cy="2040.3" r="16.2"/><circle cx="763.5" cy="2064.8" r="16.2"/><circle cx="657.2" cy="2060.1" r="16.2"/><circle cx="633.8" cy="2049.6" r="16.2"/><circle cx="594.0" cy="2044.9" r="16.2"/><circle cx="518.1" cy="2059.0" r="16.2"/><circle cx="499.4" cy="2070.2" r="16.2"/><circle cx="567.2" cy="2057.8" r="16.2"/><circle cx="585.9" cy="2075.3" r="16.2"/><circle cx="559.0" cy="2080.0" r="16.2"/><circle cx="615.1" cy="2061.3" r="16.2"/><circle cx="605.7" cy="2082.3" r="16.2"/><circle cx="528.6" cy="2094.0" r="16.2"/><circle cx="532.1" cy="2113.9" r="16.2"/><circle cx="612.7" cy="2106.9" r="16.2"/><circle cx="649.0" cy="2089.4" r="16.2"/><circle cx="671.2" cy="2085.9" r="16.2"/><circle cx="691.1" cy="2070.7" r="16.2"/><circle cx="702.7" cy="2094.5" r="16.2"/><circle cx="700.4" cy="2110.4" r="16.2"/><circle cx="665.3" cy="2119.8" r="16.2"/><circle cx="644.3" cy="2110.4" r="16.2"/><circle cx="734.3" cy="2073.0" r="16.2"/><circle cx="755.3" cy="2103.4" r="16.2"/><circle cx="774.1" cy="2095.2" r="16.2"/><circle cx="748.3" cy="2123.3" r="16.2"/><circle cx="797.4" cy="2094.0" r="16.2"/><circle cx="499.4" cy="2130.3" r="16.2"/><circle cx="576.0" cy="2126.1" r="16.2"/><circle cx="635.0" cy="2131.4" r="16.2"/><circle cx="450.3" cy="2150.8" r="16.2"/><circle cx="633.8" cy="2150.1" r="16.2"/><circle cx="610.4" cy="2156.0" r="16.2"/><circle cx="521.6" cy="2167.2" r="16.2"/><circle cx="601.8" cy="2180.5" r="16.2"/><circle cx="617.4" cy="2195.7" r="16.2"/><circle cx="717.9" cy="2137.3" r="16.2"/><circle cx="732.0" cy="2160.7" r="16.2"/><circle cx="772.9" cy="2139.6" r="16.2"/><circle cx="783.4" cy="2152.5" r="16.2"/><circle cx="797.4" cy="2145.5" r="16.2"/><circle cx="795.1" cy="2175.9" r="16.2"/><circle cx="771.7" cy="2192.2" r="16.2"/><circle cx="746.0" cy="2199.2" r="16.2"/><circle cx="764.7" cy="2201.6" r="16.2"/><circle cx="851.4" cy="1925.7" r="16.2"/><circle cx="838.6" cy="1954.9" r="16.2"/><circle cx="837.4" cy="1969.0" r="16.2"/><circle cx="819.9" cy="1969.0" r="16.2"/><circle cx="814.0" cy="2001.7" r="16.2"/><circle cx="886.5" cy="1949.1" r="16.2"/><circle cx="909.9" cy="1943.2" r="16.2"/><circle cx="922.7" cy="1933.9" r="16.2"/><circle cx="1051.3" cy="1925.7" r="16.2"/><circle cx="1077.5" cy="1954.9" r="16.2"/><circle cx="1018.6" cy="1962.0" r="16.2"/><circle cx="1035.7" cy="1970.1" r="16.2"/><circle cx="1148.3" cy="1966.2" r="16.2"/><circle cx="1199.8" cy="1951.4" r="16.2"/><circle cx="954.3" cy="1977.1" r="16.2"/><circle cx="953.1" cy="1997.0" r="16.2"/><circle cx="863.1" cy="2013.4" r="16.2"/><circle cx="885.3" cy="2009.9" r="16.2"/><circle cx="890.0" cy="2019.2" r="16.2"/><circle cx="903.6" cy="2006.4" r="16.2"/><circle cx="856.1" cy="2040.3" r="16.2"/><circle cx="873.6" cy="2037.9" r="16.2"/><circle cx="901.7" cy="2056.6" r="16.2"/><circle cx="923.9" cy="2053.1" r="16.2"/><circle cx="961.3" cy="2043.1" r="16.2"/><circle cx="1014.6" cy="2030.5" r="16.2"/><circle cx="1050.1" cy="2029.7" r="16.2"/><circle cx="1059.0" cy="2037.5" r="16.2"/><circle cx="1094.1" cy="2026.2" r="16.2"/><circle cx="1162.4" cy="2034.4" r="16.2"/><circle cx="1179.9" cy="2020.4" r="16.2"/><circle cx="1198.6" cy="2011.0" r="16.2"/><circle cx="1156.5" cy="2053.1" r="16.2"/><circle cx="1154.9" cy="2076.5" r="16.2"/><circle cx="1011.6" cy="2057.8" r="16.2"/><circle cx="1035.0" cy="2085.9" r="16.2"/><circle cx="1106.3" cy="2089.4" r="16.2"/><circle cx="1089.9" cy="2105.7" r="16.2"/><circle cx="1077.0" cy="2112.7" r="16.2"/><circle cx="973.0" cy="2092.2" r="16.2"/><circle cx="999.9" cy="2099.9" r="16.2"/><circle cx="970.2" cy="2105.7" r="16.2"/><circle cx="994.5" cy="2124.4" r="16.2"/><circle cx="1024.4" cy="2129.8" r="16.2"/><circle cx="1064.2" cy="2144.3" r="16.2"/><circle cx="1103.9" cy="2144.3" r="16.2"/><circle cx="1029.1" cy="2159.5" r="16.2"/><circle cx="1100.4" cy="2158.3" r="16.2"/><circle cx="874.8" cy="2069.5" r="16.2"/><circle cx="816.4" cy="2091.7" r="16.2"/><circle cx="854.9" cy="2103.4" r="16.2"/><circle cx="835.1" cy="2108.1" r="16.2"/><circle cx="899.4" cy="2098.7" r="16.2"/><circle cx="922.7" cy="2110.4" r="16.2"/><circle cx="897.0" cy="2129.1" r="16.2"/><circle cx="1165.9" cy="2130.3" r="16.2"/><circle cx="1132.0" cy="2144.3" r="16.2"/><circle cx="1146.0" cy="2143.1" r="16.2"/><circle cx="1176.4" cy="2163.0" r="16.2"/><circle cx="1185.7" cy="2133.8" r="16.2"/><circle cx="1101.6" cy="2171.2" r="16.2"/><circle cx="1106.3" cy="2184.0" r="16.2"/><circle cx="1148.3" cy="2189.9" r="16.2"/><circle cx="1089.9" cy="2201.6" r="16.2"/><circle cx="988.2" cy="2189.9" r="16.2"/><circle cx="947.3" cy="2173.5" r="16.2"/><circle cx="830.4" cy="2159.5" r="16.2"/><circle cx="808.2" cy="2164.2" r="16.2"/><circle cx="847.9" cy="2168.8" r="16.2"/><circle cx="832.7" cy="2168.8" r="16.2"/><circle cx="874.8" cy="2149.0" r="16.2"/><circle cx="904.0" cy="2156.0" r="16.2"/><circle cx="914.6" cy="2165.3" r="16.2"/><circle cx="883.0" cy="2177.0" r="16.2"/><circle cx="814.0" cy="2189.9" r="16.2"/><circle cx="893.5" cy="2201.6" r="16.2"/><circle cx="1197.4" cy="2175.9" r="16.2"/><circle cx="1183.4" cy="2166.5" r="16.2"/><circle cx="1311.0" cy="1955.4" r="16.2"/><circle cx="1311.0" cy="1985.3" r="16.2"/><circle cx="1311.5" cy="1998.2" r="16.2"/><circle cx="1243.2" cy="1974.8" r="16.2"/><circle cx="1250.3" cy="1972.5" r="16.2"/><circle cx="1259.6" cy="1998.9" r="16.2"/><circle cx="1208.2" cy="1981.8" r="16.2"/><circle cx="1211.7" cy="2002.9" r="16.2"/><circle cx="1216.4" cy="2034.4" r="16.2"/><circle cx="1353.1" cy="2015.0" r="16.2"/><circle cx="1412.7" cy="1944.4" r="16.2"/><circle cx="1449.0" cy="1944.4" r="16.2"/><circle cx="1462.3" cy="1930.4" r="16.2"/><circle cx="1471.2" cy="1957.3" r="16.2"/><circle cx="1438.9" cy="1998.9" r="16.2"/><circle cx="1586.9" cy="2043.1" r="16.2"/><circle cx="1253.8" cy="2043.8" r="16.2"/><circle cx="1274.8" cy="2071.8" r="16.2"/><circle cx="1299.8" cy="2065.3" r="16.2"/><circle cx="1343.8" cy="2057.8" r="16.2"/><circle cx="1229.2" cy="2105.7" r="16.2"/><circle cx="1307.5" cy="2133.1" r="16.2"/><circle cx="1388.7" cy="2112.3" r="16.2"/><circle cx="1447.3" cy="2135.0" r="16.2"/><circle cx="1385.9" cy="2164.2" r="16.2"/><circle cx="1409.2" cy="2160.7" r="16.2"/><circle cx="1427.9" cy="2163.5" r="16.2"/><circle cx="1416.2" cy="2178.2" r="16.2"/><circle cx="1511.6" cy="2171.2" r="16.2"/><circle cx="1251.9" cy="2147.8" r="16.2"/><circle cx="1232.7" cy="2157.2" r="16.2"/><circle cx="1254.9" cy="2158.3" r="16.2"/><circle cx="1243.2" cy="2168.8" r="16.2"/><circle cx="1366.0" cy="2191.1" r="16.2"/><circle cx="1236.2" cy="2201.6" r="16.2"/><circle cx="1246.8" cy="2202.7" r="16.2"/><circle cx="2033.7" cy="1995.0" r="16.2"/><circle cx="1893.3" cy="2054.3" r="16.2"/><circle cx="1933.4" cy="2084.2" r="16.2"/><circle cx="1870.0" cy="2168.9" r="16.2"/><circle cx="1684.7" cy="2229.0" r="16.2"/><circle cx="1719.9" cy="2226.2" r="16.2"/><circle cx="1782.1" cy="2276.5" r="16.2"/><circle cx="1757.5" cy="2301.8" r="16.2"/><circle cx="2144.1" cy="2317.4" r="16.2"/><circle cx="2192.0" cy="2400.8" r="16.2"/><circle cx="1609.0" cy="2220.0" r="16.2"/><circle cx="1639.7" cy="2245.4" r="16.2"/><circle cx="1941.6" cy="2241.7" r="16.2"/><circle cx="1993.6" cy="2245.4" r="16.2"/><circle cx="2010.3" cy="2269.1" r="16.2"/><circle cx="2045.1" cy="2260.9" r="16.2"/><circle cx="1651.1" cy="2302.7" r="16.2"/><circle cx="1612.3" cy="2320.3" r="16.2"/><circle cx="1890.5" cy="2312.1" r="16.2"/><circle cx="1958.8" cy="2327.2" r="16.2"/><circle cx="2012.4" cy="2326.4" r="16.2"/><circle cx="1684.7" cy="2338.7" r="16.2"/><circle cx="1609.0" cy="2359.1" r="16.2"/><circle cx="1630.7" cy="2367.3" r="16.2"/><circle cx="1698.2" cy="2372.6" r="16.2"/><circle cx="1823.0" cy="2355.0" r="16.2"/><circle cx="1761.6" cy="2365.3" r="16.2"/><circle cx="1782.1" cy="2368.1" r="16.2"/><circle cx="1755.5" cy="2371.4" r="16.2"/><circle cx="1811.5" cy="2369.3" r="16.2"/><circle cx="2045.1" cy="2371.4" r="16.2"/><circle cx="2088.9" cy="2365.3" r="16.2"/><circle cx="1861.8" cy="2384.5" r="16.2"/><circle cx="1885.2" cy="2381.6" r="16.2"/><circle cx="1888.4" cy="2393.9" r="16.2"/><circle cx="1638.9" cy="2388.6" r="16.2"/><circle cx="1626.6" cy="2420.5" r="16.2"/><circle cx="1624.5" cy="2436.0" r="16.2"/><circle cx="1636.8" cy="2459.4" r="16.2"/><circle cx="1919.1" cy="2399.2" r="16.2"/><circle cx="1775.9" cy="2408.2" r="16.2"/><circle cx="1805.8" cy="2413.5" r="16.2"/><circle cx="1778.0" cy="2416.4" r="16.2"/><circle cx="1763.6" cy="2431.9" r="16.2"/><circle cx="1782.1" cy="2430.7" r="16.2"/><circle cx="1798.4" cy="2438.9" r="16.2"/><circle cx="1852.4" cy="2428.7" r="16.2"/><circle cx="1833.2" cy="2446.3" r="16.2"/><circle cx="1802.5" cy="2461.4" r="16.2"/><circle cx="1873.3" cy="2453.2" r="16.2"/><circle cx="1906.0" cy="2430.7" r="16.2"/><circle cx="1909.7" cy="2451.2" r="16.2"/><circle cx="1939.6" cy="2424.6" r="16.2"/><circle cx="1955.9" cy="2438.9" r="16.2"/><circle cx="2015.3" cy="2413.5" r="16.2"/><circle cx="2057.0" cy="2423.3" r="16.2"/><circle cx="480.7" cy="2218.7" r="16.2"/><circle cx="539.1" cy="2274.8" r="16.2"/><circle cx="631.9" cy="2233.2" r="16.2"/><circle cx="655.5" cy="2264.3" r="16.2"/><circle cx="628.6" cy="2280.2" r="16.2"/><circle cx="779.9" cy="2232.3" r="16.2"/><circle cx="746.7" cy="2266.6" r="16.2"/><circle cx="761.2" cy="2302.9" r="16.2"/><circle cx="748.3" cy="2302.9" r="16.2"/><circle cx="771.7" cy="2338.4" r="16.2"/><circle cx="740.6" cy="2360.1" r="16.2"/><circle cx="729.2" cy="2374.2" r="16.2"/><circle cx="789.2" cy="2438.9" r="16.2"/><circle cx="799.8" cy="2318.1" r="16.2"/><circle cx="799.8" cy="2272.5" r="16.2"/><circle cx="799.8" cy="2232.7" r="16.2"/><circle cx="936.3" cy="2223.4" r="16.2"/><circle cx="919.9" cy="2240.9" r="16.2"/><circle cx="833.9" cy="2214.0" r="16.2"/><circle cx="818.7" cy="2211.7" r="16.2"/><circle cx="845.6" cy="2235.1" r="16.2"/><circle cx="833.9" cy="2244.4" r="16.2"/><circle cx="814.5" cy="2250.3" r="16.2"/><circle cx="852.6" cy="2256.1" r="16.2"/><circle cx="859.6" cy="2260.8" r="16.2"/><circle cx="830.4" cy="2274.8" r="16.2"/><circle cx="1040.8" cy="2210.5" r="16.2"/><circle cx="1078.2" cy="2216.4" r="16.2"/><circle cx="1080.5" cy="2228.1" r="16.2"/><circle cx="1027.9" cy="2240.9" r="16.2"/><circle cx="1046.6" cy="2266.6" r="16.2"/><circle cx="1049.0" cy="2280.7" r="16.2"/><circle cx="1016.9" cy="2277.1" r="16.2"/><circle cx="1156.5" cy="2232.3" r="16.2"/><circle cx="1160.7" cy="2280.7" r="16.2"/><circle cx="1199.8" cy="2306.4" r="16.2"/><circle cx="1182.9" cy="2327.4" r="16.2"/><circle cx="1126.6" cy="2353.1" r="16.2"/><circle cx="966.0" cy="2301.0" r="16.2"/><circle cx="904.0" cy="2305.7" r="16.2"/><circle cx="878.3" cy="2308.7" r="16.2"/><circle cx="854.9" cy="2314.1" r="16.2"/><circle cx="816.4" cy="2328.6" r="16.2"/><circle cx="822.2" cy="2340.3" r="16.2"/><circle cx="880.7" cy="2341.0" r="16.2"/><circle cx="899.4" cy="2352.0" r="16.2"/><circle cx="928.6" cy="2348.5" r="16.2"/><circle cx="894.7" cy="2370.2" r="16.2"/><circle cx="822.7" cy="2376.5" r="16.2"/><circle cx="911.7" cy="2392.9" r="16.2"/><circle cx="859.6" cy="2402.2" r="16.2"/><circle cx="869.7" cy="2407.6" r="16.2"/><circle cx="956.2" cy="2383.1" r="16.2"/><circle cx="966.5" cy="2420.2" r="16.2"/><circle cx="1020.9" cy="2312.2" r="16.2"/><circle cx="1081.7" cy="2312.2" r="16.2"/><circle cx="1047.8" cy="2323.9" r="16.2"/><circle cx="1055.5" cy="2327.4" r="16.2"/><circle cx="1015.1" cy="2350.3" r="16.2"/><circle cx="1033.8" cy="2364.8" r="16.2"/><circle cx="993.3" cy="2375.3" r="16.2"/><circle cx="1004.6" cy="2374.2" r="16.2"/><circle cx="1035.0" cy="2383.5" r="16.2"/><circle cx="1053.7" cy="2388.2" r="16.2"/><circle cx="992.2" cy="2395.2" r="16.2"/><circle cx="1018.6" cy="2413.2" r="16.2"/><circle cx="1025.6" cy="2435.0" r="16.2"/><circle cx="1046.6" cy="2439.6" r="16.2"/><circle cx="1064.6" cy="2435.0" r="16.2"/><circle cx="1071.2" cy="2460.7" r="16.2"/><circle cx="1084.0" cy="2451.3" r="16.2"/><circle cx="1100.4" cy="2457.2" r="16.2"/><circle cx="1110.9" cy="2468.8" r="16.2"/><circle cx="1123.8" cy="2452.5" r="16.2"/><circle cx="1099.2" cy="2395.2" r="16.2"/><circle cx="1110.9" cy="2405.7" r="16.2"/><circle cx="1117.9" cy="2418.6" r="16.2"/><circle cx="1136.6" cy="2438.5" r="16.2"/><circle cx="1160.0" cy="2429.1" r="16.2"/><circle cx="1174.1" cy="2427.9" r="16.2"/><circle cx="1189.2" cy="2439.6" r="16.2"/><circle cx="1185.7" cy="2464.2" r="16.2"/><circle cx="1290.0" cy="2217.5" r="16.2"/><circle cx="1314.6" cy="2216.4" r="16.2"/><circle cx="1307.5" cy="2223.4" r="16.2"/><circle cx="1283.0" cy="2241.6" r="16.2"/><circle cx="1312.2" cy="2258.4" r="16.2"/><circle cx="1316.9" cy="2285.3" r="16.2"/><circle cx="1415.1" cy="2260.3" r="16.2"/><circle cx="1437.3" cy="2265.5" r="16.2"/><circle cx="1392.9" cy="2284.2" r="16.2"/><circle cx="1381.2" cy="2286.5" r="16.2"/><circle cx="1433.1" cy="2290.0" r="16.2"/><circle cx="1318.5" cy="2322.3" r="16.2"/><circle cx="1251.9" cy="2348.5" r="16.2"/><circle cx="1237.4" cy="2364.8" r="16.2"/><circle cx="1247.9" cy="2373.0" r="16.2"/><circle cx="1360.1" cy="2340.3" r="16.2"/><circle cx="1342.6" cy="2344.9" r="16.2"/><circle cx="1359.0" cy="2354.3" r="16.2"/><circle cx="1329.7" cy="2367.2" r="16.2"/><circle cx="1339.1" cy="2388.2" r="16.2"/><circle cx="1344.9" cy="2394.0" r="16.2"/><circle cx="1315.7" cy="2399.4" r="16.2"/><circle cx="1307.5" cy="2403.4" r="16.2"/><circle cx="1262.0" cy="2413.9" r="16.2"/><circle cx="1253.3" cy="2423.3" r="16.2"/><circle cx="1253.8" cy="2442.0" r="16.2"/><circle cx="1218.7" cy="2443.1" r="16.2"/><circle cx="1299.4" cy="2417.4" r="16.2"/><circle cx="1339.8" cy="2415.1" r="16.2"/><circle cx="1340.3" cy="2424.4" r="16.2"/><circle cx="1315.7" cy="2436.1" r="16.2"/><circle cx="1333.3" cy="2436.1" r="16.2"/><circle cx="1371.8" cy="2420.9" r="16.2"/><circle cx="1380.0" cy="2442.0" r="16.2"/><circle cx="1372.5" cy="2464.2" r="16.2"/><circle cx="1418.6" cy="2390.5" r="16.2"/><circle cx="1431.4" cy="2385.9" r="16.2"/><circle cx="1455.3" cy="2378.1" r="16.2"/><circle cx="1484.0" cy="2375.3" r="16.2"/><circle cx="1489.9" cy="2387.0" r="16.2"/><circle cx="1470.0" cy="2416.2" r="16.2"/><circle cx="1445.5" cy="2430.3" r="16.2"/><circle cx="1449.0" cy="2447.8" r="16.2"/><circle cx="1454.8" cy="2463.5" r="16.2"/><circle cx="1499.2" cy="2426.1" r="16.2"/><circle cx="1490.6" cy="2442.0" r="16.2"/><circle cx="1523.3" cy="2397.5" r="16.2"/><circle cx="1543.7" cy="2390.5" r="16.2"/><circle cx="1575.2" cy="2410.4" r="16.2"/><circle cx="1588.1" cy="2411.6" r="16.2"/><circle cx="1585.7" cy="2430.3" r="16.2"/><circle cx="1521.4" cy="2231.6" r="16.2"/><circle cx="1185.0" cy="2484.5" r="16.2"/><circle cx="1416.9" cy="2507.2" r="16.2"/><circle cx="1583.5" cy="2555.7" r="16.2"/><circle cx="1757.0" cy="2485.0" r="16.2"/><circle cx="2093.1" cy="2466.3" r="16.2"/><circle cx="1992.6" cy="2542.3" r="16.2"/><circle cx="1614.7" cy="2409.8" r="16.2"/><circle cx="1597.2" cy="2446.6" r="16.2"/><circle cx="1616.5" cy="2444.9" r="16.2"/><circle cx="1279.1" cy="2502.0" r="16.2"/><circle cx="1322.9" cy="2497.5" r="16.2"/><circle cx="793.1" cy="2050.3" r="16.2"/><circle cx="808.0" cy="2069.0" r="16.2"/><circle cx="609.8" cy="2024.2" r="16.2"/><circle cx="707.0" cy="2052.2" r="16.2"/><circle cx="793.1" cy="2001.7" r="16.2"/><circle cx="576.1" cy="1986.8" r="16.2"/><circle cx="607.9" cy="2074.7" r="16.2"/><circle cx="658.4" cy="2067.2" r="16.2"/><circle cx="817.4" cy="2102.7" r="16.2"/><circle cx="636.0" cy="2108.3" r="16.2"/><circle cx="804.9" cy="2055.4" r="16.2"/><circle cx="804.9" cy="2076.0" r="16.2"/><circle cx="806.8" cy="2116.2" r="16.2"/><circle cx="991.9" cy="2139.5" r="16.2"/>
</g></defs>
<use href="#dts" fill="#fe0000" stroke="#fff" stroke-width="1.7"/>
<clipPath id="cb"><polygon points="525.0,425.7 701.6,479.5 876.0,478.3 1051.0,534.4 1200.0,499.5 1401.0,475.3 1600.0,595.0 1753.4,702.0 1927.3,628.5 2104.4,554.6 2104.4,776.4 1927.3,776.4 1753.4,830.4 1578.7,701.3 1403.4,532.1 1228.0,535.6 1200.0,543.0 1051.0,580.0 876.0,511.0 701.6,506.0 525.0,450.0"/><polygon points="535.6,1986.0 711.0,2011.7 800.0,2032.0 893.5,2055.4 1058.3,2180.5 1200.0,2059.0 1235.0,2027.0 1406.5,2054.8 1583.4,2174.4 1756.3,2302.3 1930.4,2224.4 2104.6,2219.7 2104.6,2407.2 1930.4,2381.5 1756.3,2400.0 1582.5,2352.1 1408.0,2193.0 1235.0,2129.0 1200.0,2151.0 1059.5,2266.6 963.6,2200.0 860.8,2115.0 800.0,2096.4 711.0,2067.0 535.6,2042.6"/></clipPath>
<g clip-path="url(#cb)"><rect x="500" y="400" width="1650" height="2050" fill="#c8c8ca"/><use href="#dts" fill="#e2898b" stroke="#e8cfd0" stroke-width="1.7"/></g>
<polyline points="525.0,439.7 701.6,493.5 876.0,494.7 1051.3,555.5 1223.4,515.7 1402.2,502.9 1600.0,654.0 1753.4,765.3 1927.3,699.9 2104.4,658.2" fill="none" stroke="#111" stroke-width="2" stroke-linejoin="miter"/>
<polyline points="535.6,2014.1 709.8,2038.6 800.0,2064.8 885.3,2088.9 1024.4,2200.0 1059.0,2226.2 1233.9,2080.0 1408.0,2121.2 1582.5,2272.3 1756.3,2359.3 1930.4,2313.3 2104.6,2328.7" fill="none" stroke="#111" stroke-width="2" stroke-linejoin="miter"/>
<g stroke="#000" fill="none" stroke-linejoin="round" stroke-linecap="butt">
<rect x="278" y="61" width="2011" height="2732" stroke-width="6.3"/>
<line x1="278" y1="1427" x2="2289" y2="1427" stroke-width="6.3"/>
<path stroke-width="6" d="M278.0 61.0L298.6 61.0M278.0 379.3L293.4 379.3M278.0 299.1L293.4 299.1M278.0 242.2L293.4 242.2M278.0 198.1L293.4 198.1M278.0 162.0L293.4 162.0M278.0 131.5L293.4 131.5M278.0 105.1L293.4 105.1M278.0 81.8L293.4 81.8M278.0 516.3L298.6 516.3M278.0 834.6L293.4 834.6M278.0 754.4L293.4 754.4M278.0 697.5L293.4 697.5M278.0 653.4L293.4 653.4M278.0 617.3L293.4 617.3M278.0 586.9L293.4 586.9M278.0 560.5L293.4 560.5M278.0 537.2L293.4 537.2M278.0 971.7L298.6 971.7M278.0 1289.9L293.4 1289.9M278.0 1209.8L293.4 1209.8M278.0 1152.9L293.4 1152.9M278.0 1108.7L293.4 1108.7M278.0 1072.7L293.4 1072.7M278.0 1042.2L293.4 1042.2M278.0 1015.8L293.4 1015.8M278.0 992.5L293.4 992.5M278.0 1427.0L298.6 1427.0M278.0 1665.7L293.4 1665.7M278.0 1605.6L293.4 1605.6M278.0 1562.9L293.4 1562.9M278.0 1529.8L293.4 1529.8M278.0 1502.8L293.4 1502.8M278.0 1479.9L293.4 1479.9M278.0 1460.1L293.4 1460.1M278.0 1442.6L293.4 1442.6M278.0 1768.5L298.6 1768.5M278.0 2007.2L293.4 2007.2M278.0 1947.1L293.4 1947.1M278.0 1904.4L293.4 1904.4M278.0 1871.3L293.4 1871.3M278.0 1844.3L293.4 1844.3M278.0 1821.4L293.4 1821.4M278.0 1801.6L293.4 1801.6M278.0 1784.1L293.4 1784.1M278.0 2110.0L298.6 2110.0M278.0 2348.7L293.4 2348.7M278.0 2288.6L293.4 2288.6M278.0 2245.9L293.4 2245.9M278.0 2212.8L293.4 2212.8M278.0 2185.8L293.4 2185.8M278.0 2162.9L293.4 2162.9M278.0 2143.1L293.4 2143.1M278.0 2125.6L293.4 2125.6M278.0 2451.5L298.6 2451.5M278.0 2690.2L293.4 2690.2M278.0 2630.1L293.4 2630.1M278.0 2587.4L293.4 2587.4M278.0 2554.3L293.4 2554.3M278.0 2527.3L293.4 2527.3M278.0 2504.4L293.4 2504.4M278.0 2484.6L293.4 2484.6M278.0 2467.1L293.4 2467.1M358.4 1427.0L358.4 1413.5M358.4 2793.0L358.4 2779.5M438.9 1427.0L438.9 1413.5M438.9 2793.0L438.9 2779.5M519.3 1427.0L519.3 1413.5M519.3 2793.0L519.3 2779.5M599.8 1427.0L599.8 1413.5M599.8 2793.0L599.8 2779.5M680.2 1427.0L680.2 1407.5M680.2 2793.0L680.2 2773.5M760.6 1427.0L760.6 1413.5M760.6 2793.0L760.6 2779.5M841.1 1427.0L841.1 1413.5M841.1 2793.0L841.1 2779.5M921.5 1427.0L921.5 1413.5M921.5 2793.0L921.5 2779.5M1002.0 1427.0L1002.0 1413.5M1002.0 2793.0L1002.0 2779.5M1082.4 1427.0L1082.4 1407.5M1082.4 2793.0L1082.4 2773.5M1162.8 1427.0L1162.8 1413.5M1162.8 2793.0L1162.8 2779.5M1243.3 1427.0L1243.3 1413.5M1243.3 2793.0L1243.3 2779.5M1323.7 1427.0L1323.7 1413.5M1323.7 2793.0L1323.7 2779.5M1404.2 1427.0L1404.2 1413.5M1404.2 2793.0L1404.2 2779.5M1484.6 1427.0L1484.6 1407.5M1484.6 2793.0L1484.6 2773.5M1565.0 1427.0L1565.0 1413.5M1565.0 2793.0L1565.0 2779.5M1645.5 1427.0L1645.5 1413.5M1645.5 2793.0L1645.5 2779.5M1725.9 1427.0L1725.9 1413.5M1725.9 2793.0L1725.9 2779.5M1806.4 1427.0L1806.4 1413.5M1806.4 2793.0L1806.4 2779.5M1886.8 1427.0L1886.8 1407.5M1886.8 2793.0L1886.8 2773.5M1967.2 1427.0L1967.2 1413.5M1967.2 2793.0L1967.2 2779.5M2047.7 1427.0L2047.7 1413.5M2047.7 2793.0L2047.7 2779.5M2128.1 1427.0L2128.1 1413.5M2128.1 2793.0L2128.1 2779.5M2208.6 1427.0L2208.6 1413.5M2208.6 2793.0L2208.6 2779.5"/>
</g>
<g font-family="'Liberation Sans', Arial, sans-serif" fill="#231815">
<text x="244.0" y="79.0" font-size="61" text-anchor="end" letter-spacing="0.3">1</text>
<text x="244.0" y="534.3" font-size="61" text-anchor="end" letter-spacing="0.3">0.1</text>
<text x="244.0" y="989.7" font-size="61" text-anchor="end" letter-spacing="0.3">0.01</text>
<text x="244.0" y="1445.0" font-size="61" text-anchor="end" letter-spacing="0.3">0.001</text>
<text x="244.0" y="1786.5" font-size="61" text-anchor="end" letter-spacing="0.3">100</text>
<text x="244.0" y="2128.0" font-size="61" text-anchor="end" letter-spacing="0.3">10</text>
<text x="244.0" y="2469.5" font-size="61" text-anchor="end" letter-spacing="0.3">1</text>
<text x="244.0" y="2811.0" font-size="61" text-anchor="end" letter-spacing="0.3">0.1</text>
<text x="275.3" y="2878" font-size="61" text-anchor="middle" letter-spacing="2.7">6000</text>
<text x="670.9" y="2878" font-size="61" text-anchor="middle" letter-spacing="2.7">12,000</text>
<text x="1073.0" y="2878" font-size="61" text-anchor="middle" letter-spacing="2.7">18,000</text>
<text x="1472.0" y="2878" font-size="61" text-anchor="middle" letter-spacing="2.7">24,000</text>
<text x="1877.0" y="2878" font-size="61" text-anchor="middle" letter-spacing="2.7">30,000</text>
<text x="2276.5" y="2878" font-size="61" text-anchor="middle" letter-spacing="2.7">36,000</text>
<text x="1277" y="2994" font-size="76" text-anchor="middle" letter-spacing="9">Hf</text>
<text transform="translate(83.5,725) rotate(-90)" font-size="76" text-anchor="middle" letter-spacing="3.6">Eu/Eu*</text>
<text transform="translate(85,2092) rotate(-90)" font-size="76" text-anchor="middle" letter-spacing="2.8">Ce/Ce*</text>
<text x="332.4" y="182" font-size="92" letter-spacing="6">(a)</text>
<text x="334" y="1551" font-size="92" letter-spacing="6">(b)</text>
</g>
</svg>
</body></html>
